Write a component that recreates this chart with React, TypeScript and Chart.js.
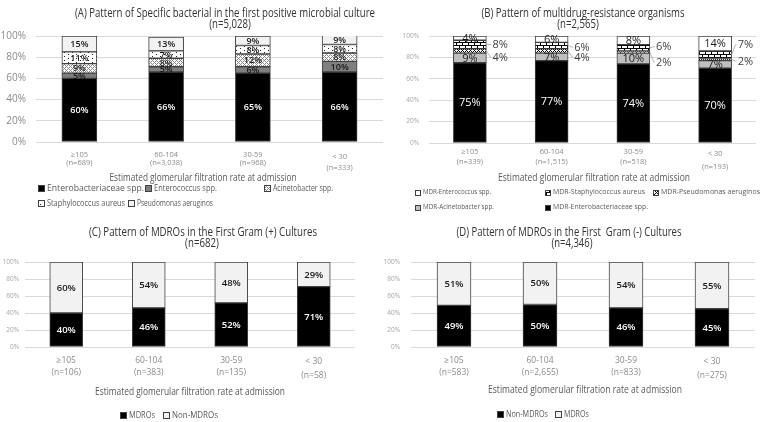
import React, { useEffect, useRef } from 'react';
import { Chart, registerables } from 'chart.js';
Chart.register(...registerables);

// ---------- data ----------
const gfrGroups = ['≥105', '60-104', '30-59', '< 30'];
const nA = ['(n=689)', '(n=3,038)', '(n=968)', '(n=333)'];
const nB = ['(n=339)', '(n=1,515)', '(n=518)', '(n=193)'];
const nC = ['(n=106)', '(n=383)', '(n=135)', '(n=58)'];
const nD = ['(n=583)', '(n=2,655)', '(n=833)', '(n=275)'];

const pctTicks20 = [0, 20, 40, 60, 80, 100];
const pctTicks10 = [0, 10, 20, 30, 40, 50, 60, 70, 80, 90, 100];

// (A) first positive microbial culture, % (bottom to top)
const aEnterobacteriaceae = [60, 66, 65, 66];
const aEnterococcus = [5, 5, 6, 10];
const aAcinetobacter = [9, 8, 12, 8];
const aStaphylococcus = [11, 7, 8, 8];
const aPseudomonas = [15, 13, 9, 9];

// (B) multidrug-resistance organisms, % (bottom to top)
const bEnterobacteriaceae = [75, 77, 74, 70];
const bAcinetobacter = [9, 7, 10, 7];
const bPseudomonas = [4, 4, 2, 2];
const bStaphylococcus = [8, 6, 6, 7];
const bEnterococcus = [4, 6, 8, 14];

// (C) Gram (+) cultures
const cMDROs = [40, 46, 52, 71];
const cNonMDROs = [60, 54, 48, 29];

// (D) Gram (-) cultures
const dNonMDROs = [49, 50, 46, 45];
const dMDROs = [51, 50, 54, 55];

// ---------- styles ----------
const FONT = '"Open Sans", "DejaVu Sans", sans-serif';
const BORDER = '#404040';

type FillKey = 'black' | 'gray' | 'lgray' | 'light' | 'white' | 'dots' | 'hatchLight' | 'hatchDark' | 'brick';

function makePattern(w: number, h: number, draw: (c: CanvasRenderingContext2D) => void) {
  const cv = document.createElement('canvas');
  cv.width = w; cv.height = h;
  const c = cv.getContext('2d')!;
  draw(c);
  return c.createPattern(cv, 'repeat')!;
}

function makeFills(): Record<FillKey, any> {
  return {
    black: '#000000',
    gray: '#7f7f7f',
    lgray: '#bfbfbf',
    light: '#f2f2f2',
    white: '#ffffff',
    dots: makePattern(8, 4, (c) => {
      c.fillStyle = '#fff'; c.fillRect(0, 0, 8, 4);
      c.fillStyle = '#222'; c.fillRect(0, 0, 1, 1); c.fillRect(4, 2, 1, 1);
    }),
    hatchLight: makePattern(4, 4, (c) => {
      c.fillStyle = '#fff'; c.fillRect(0, 0, 4, 4);
      c.fillStyle = '#8a8a8a';
      for (let x = 0; x < 4; x++) for (let y = 0; y < 4; y++) {
        if ((x + y) % 4 === 0 || (x - y + 8) % 4 === 0) c.fillRect(x, y, 1, 1);
      }
    }),
    hatchDark: makePattern(4, 4, (c) => {
      c.fillStyle = '#fff'; c.fillRect(0, 0, 4, 4);
      c.fillStyle = '#000';
      for (let x = 0; x < 4; x++) for (let y = 0; y < 4; y++) {
        if ((x + y) % 4 === 0 || (x - y + 8) % 4 === 0) c.fillRect(x, y, 1, 1);
      }
    }),
    brick: makePattern(6, 6, (c) => {
      c.fillStyle = '#fff'; c.fillRect(0, 0, 6, 6);
      c.fillStyle = '#000';
      c.fillRect(0, 0, 6, 1); c.fillRect(0, 3, 6, 1);
      c.fillRect(0, 1, 1, 2); c.fillRect(3, 4, 1, 2);
    }),
  };
}

type DS = { label: string; data: number[]; fill: FillKey; mode: 'in' | 'out'; offsets?: number[] };
type LegendItem = { ds: number; x: number; y: number; w: number };
interface Panel {
  key: string;
  cats: string[][];
  ds: DS[];
  area: [number, number, number, number];
  bar: number;
  yTicks: number[];
  yFont: number; yPad: number; yColor: string;
  xFont: number; xLH: number; xLHLast: number; xPad: number;
  title: [string, string]; titleX: [number, number]; titleY: [number, number]; titleW: number;
  axisTitle: { x: number; y: number; w: number };
  legend: LegendItem[]; legendSize: number; icon: number;
  labelFont: string; outFont?: string;
}

const panels: Panel[] = [
  {
    key: 'A',
    cats: gfrGroups.map((g, i) => [g, nA[i]]),
    ds: [
      { label: 'Enterobacteriaceae spp.', data: aEnterobacteriaceae, fill: 'black', mode: 'in' },
      { label: 'Enterococcus spp.', data: aEnterococcus, fill: 'gray', mode: 'in' },
      { label: 'Acinetobacter spp.', data: aAcinetobacter, fill: 'hatchLight', mode: 'in' },
      { label: 'Staphylococcus aureus', data: aStaphylococcus, fill: 'dots', mode: 'in' },
      { label: 'Pseudomonas aeruginos', data: aPseudomonas, fill: 'light', mode: 'in' },
    ],
    area: [36, 383, 36, 142], bar: 35, yTicks: pctTicks20,
    yFont: 10, yPad: 10, yColor: '#8c8c8c',
    xFont: 7.5, xLH: 8, xLHLast: 11, xPad: 9,
    title: ['(A) Pattern of Specific bacterial in the first positive microbial culture', '(n=5,028)'],
    titleX: [225, 230], titleY: [13, 24], titleW: 300,
    axisTitle: { x: 203, y: 178, w: 187 },
    legend: [
      { ds: 0, x: 38, y: 188, w: 97 }, { ds: 1, x: 145, y: 188, w: 63 }, { ds: 2, x: 264, y: 188, w: 60 },
      { ds: 3, x: 38, y: 203, w: 78 }, { ds: 4, x: 128, y: 203, w: 76 },
    ],
    legendSize: 9.5, icon: 6,
    labelFont: `600 9px ${FONT}`,
  },
  {
    key: 'B',
    cats: gfrGroups.map((g, i) => [g, nB[i]]),
    ds: [
      { label: 'MDR-Enterobacteriaceae spp.', data: bEnterobacteriaceae, fill: 'black', mode: 'in' },
      { label: 'MDR-Acinetobacter spp.', data: bAcinetobacter, fill: 'lgray', mode: 'in' },
      { label: 'MDR-Pseudomonas aeruginos', data: bPseudomonas, fill: 'hatchDark', mode: 'out', offsets: [6, 6, 10, 1.5] },
      { label: 'MDR-Staphylococcus aureus', data: bStaphylococcus, fill: 'brick', mode: 'out', offsets: [0, 1.5, -1, -10] },
      { label: 'MDR-Enterococcus spp.', data: bEnterococcus, fill: 'white', mode: 'in' },
    ],
    area: [429, 756, 36, 143], bar: 33, yTicks: pctTicks10,
    yFont: 6.5, yPad: 10, yColor: '#a6a6a6',
    xFont: 7.5, xLH: 10, xLHLast: 13, xPad: 4,
    title: ['(B) Pattern of multidrug-resistance organisms', '(n=2,565)'],
    titleX: [583, 578], titleY: [13, 24], titleW: 203,
    axisTitle: { x: 594, y: 178, w: 192 },
    legend: [
      { ds: 4, x: 415, y: 192, w: 68 }, { ds: 3, x: 545, y: 192, w: 92 }, { ds: 2, x: 653, y: 192, w: 99 },
      { ds: 1, x: 415, y: 207, w: 71 }, { ds: 0, x: 545, y: 207, w: 95 },
    ],
    legendSize: 8, icon: 5,
    labelFont: `11px ${FONT}`, outFont: `11px ${FONT}`,
  },
  {
    key: 'C',
    cats: gfrGroups.map((g, i) => [g, nC[i]]),
    ds: [
      { label: 'MDROs', data: cMDROs, fill: 'black', mode: 'in' },
      { label: 'Non-MDROs', data: cNonMDROs, fill: 'light', mode: 'in' },
    ],
    area: [25, 355, 262, 347], bar: 33, yTicks: pctTicks10,
    yFont: 6.5, yPad: 6, yColor: '#a6a6a6',
    xFont: 8.5, xLH: 12, xLHLast: 14, xPad: 8,
    title: ['(C) Pattern of MDROs in the First Gram (+) Cultures', '(n=682)'],
    titleX: [203, 202], titleY: [232, 243], titleW: 228,
    axisTitle: { x: 190, y: 392, w: 190 },
    legend: [{ ds: 0, x: 120, y: 415, w: 26 }, { ds: 1, x: 163, y: 415, w: 46 }],
    legendSize: 9, icon: 6,
    labelFont: `600 9.5px ${FONT}`,
  },
  {
    key: 'D',
    cats: gfrGroups.map((g, i) => [g, nD[i]]),
    ds: [
      { label: 'Non-MDROs', data: dNonMDROs, fill: 'black', mode: 'in' },
      { label: 'MDROs', data: dMDROs, fill: 'light', mode: 'in' },
    ],
    area: [411, 755, 262, 347], bar: 34, yTicks: pctTicks10,
    yFont: 6.5, yPad: 11, yColor: '#a6a6a6',
    xFont: 8.5, xLH: 12, xLHLast: 14, xPad: 8,
    title: ['(D) Pattern of MDROs in the First  Gram (-) Cultures', '(n=4,346)'],
    titleX: [569, 572], titleY: [232, 243], titleW: 225,
    axisTitle: { x: 585, y: 390, w: 194 },
    legend: [{ ds: 0, x: 497, y: 414, w: 42 }, { ds: 1, x: 555, y: 414, w: 25 }],
    legendSize: 9, icon: 6,
    labelFont: `600 9.5px ${FONT}`,
  },
];

function drawText(ctx: CanvasRenderingContext2D, text: string, x: number, y: number, font: string,
  color: string, align: CanvasTextAlign, sx: number) {
  ctx.save();
  ctx.font = font;
  ctx.fillStyle = color;
  ctx.textBaseline = 'middle';
  ctx.textAlign = align;
  ctx.translate(x, y);
  ctx.scale(sx, 1);
  ctx.fillText(text, 0, 0);
  ctx.restore();
}

function measure(ctx: CanvasRenderingContext2D, text: string, font: string) {
  ctx.save();
  ctx.font = font;
  const w = ctx.measureText(text).width;
  ctx.restore();
  return w;
}

function makeDecor(p: Panel, fills: Record<FillKey, any>) {
  return {
    id: 'decor' + p.key,
    afterDatasetsDraw(chart: any) {
      const ctx: CanvasRenderingContext2D = chart.ctx;
      p.ds.forEach((d, di) => {
        const meta = chart.getDatasetMeta(di);
        meta.data.forEach((bar: any, j: number) => {
          const { x, y, base, width } = bar.getProps(['x', 'y', 'base', 'width'], true);
          const mid = (y + base) / 2;
          const txt = d.data[j] + '%';
          if (d.mode === 'in') {
            const color = d.fill === 'black' ? '#ffffff' : '#1a1a1a';
            drawText(ctx, txt, x, mid + 0.5, p.labelFont, color, 'center', 1);
          } else {
            const right = x + width / 2;
            const ly = mid + (d.offsets ? d.offsets[j] : 0);
            ctx.save();
            ctx.strokeStyle = '#a6a6a6';
            ctx.lineWidth = 0.8;
            ctx.beginPath();
            ctx.moveTo(right, mid);
            ctx.lineTo(right + 4, ly);
            ctx.lineTo(right + 5, ly);
            ctx.stroke();
            ctx.restore();
            drawText(ctx, txt, right + 6, ly + 0.5, p.outFont || p.labelFont, '#404040', 'left', 1);
          }
        });
      });
    },
    afterDraw(chart: any) {
      const ctx: CanvasRenderingContext2D = chart.ctx;
      // titles
      const tFont = `13px ${FONT}`;
      const tsx = p.titleW / measure(ctx, p.title[0], tFont);
      drawText(ctx, p.title[0], p.titleX[0], p.titleY[0], tFont, '#333333', 'center', tsx);
      drawText(ctx, p.title[1], p.titleX[1], p.titleY[1], tFont, '#333333', 'center', tsx);
      // axis title
      const aFont = `10.5px ${FONT}`;
      const axisText = 'Estimated glomerular filtration rate at admission';
      drawText(ctx, axisText, p.axisTitle.x, p.axisTitle.y, aFont, '#595959', 'center',
        p.axisTitle.w / measure(ctx, axisText, aFont));
      // legend
      const lFont = `${p.legendSize}px ${FONT}`;
      p.legend.forEach((it) => {
        const d = p.ds[it.ds];
        const s = p.icon;
        const ix = Math.round(it.x) + 0.5;
        const iy = Math.round(it.y - s / 2) + 0.5;
        ctx.save();
        ctx.fillStyle = fills[d.fill];
        ctx.fillRect(ix, iy, s, s);
        ctx.strokeStyle = BORDER;
        ctx.lineWidth = 1;
        ctx.strokeRect(ix, iy, s, s);
        ctx.restore();
        drawText(ctx, d.label, it.x + s + 3, it.y, lFont, '#595959', 'left',
          it.w / measure(ctx, d.label, lFont));
      });
    },
  };
}

function buildConfig(p: Panel, fills: Record<FillKey, any>): any {
  const [l, r, t, b] = p.area;
  const yW = Math.min(40, l);
  const xH = 40;
  return {
    type: 'bar',
    data: {
      labels: p.cats,
      datasets: p.ds.map((d) => ({
        label: d.label,
        data: d.data,
        backgroundColor: fills[d.fill],
        borderColor: BORDER,
        borderWidth: 1,
        borderSkipped: false,
        barThickness: p.bar,
      })),
    },
    options: {
      responsive: false,
      maintainAspectRatio: false,
      animation: false,
      events: [],
      layout: { padding: { left: l - yW, right: 760 - r, top: t, bottom: 422 - b - xH } },
      plugins: { legend: { display: false }, tooltip: { enabled: false }, title: { display: false } },
      scales: {
        x: {
          stacked: true,
          grid: { display: false, drawTicks: false },
          border: { display: false },
          ticks: {
            autoSkip: false, maxRotation: 0, minRotation: 0,
            padding: p.xPad,
            color: '#8c8c8c',
            font: (c: any) => ({
              family: FONT,
              size: p.xFont,
              lineHeight: (c.index === p.cats.length - 1 ? p.xLHLast : p.xLH) + 'px',
            }),
          },
          afterFit: (s: any) => { s.height = xH; },
        },
        y: {
          stacked: true,
          min: 0, max: 100,
          afterBuildTicks: (s: any) => { s.ticks = p.yTicks.map((v) => ({ value: v })); },
          grid: { color: '#d9d9d9', lineWidth: 1, drawTicks: false },
          border: { display: false },
          ticks: {
            padding: p.yPad,
            color: p.yColor,
            font: { family: FONT, size: p.yFont },
            callback: (v: any) => v + '%',
          },
          afterFit: (s: any) => { s.width = yW; },
        },
      },
    },
    plugins: [makeDecor(p, fills)],
  };
}

export default function App() {
  const canvases = useRef<(HTMLCanvasElement | null)[]>([]);
  useEffect(() => {
    const fills = makeFills();
    const charts = panels.map((p, i) => new Chart(canvases.current[i]!, buildConfig(p, fills)));
    return () => charts.forEach((c) => c.destroy());
  }, []);
  return (
    <div style={{ position: 'fixed', left: 0, top: 0, width: 760, height: 422, background: '#ffffff' }}>
      {panels.map((p, i) => (
        <canvas
          key={p.key}
          ref={(el) => { canvases.current[i] = el; }}
          width={760}
          height={422}
          style={{ position: 'absolute', left: 0, top: 0, width: 760, height: 422 }}
        />
      ))}
    </div>
  );
}
